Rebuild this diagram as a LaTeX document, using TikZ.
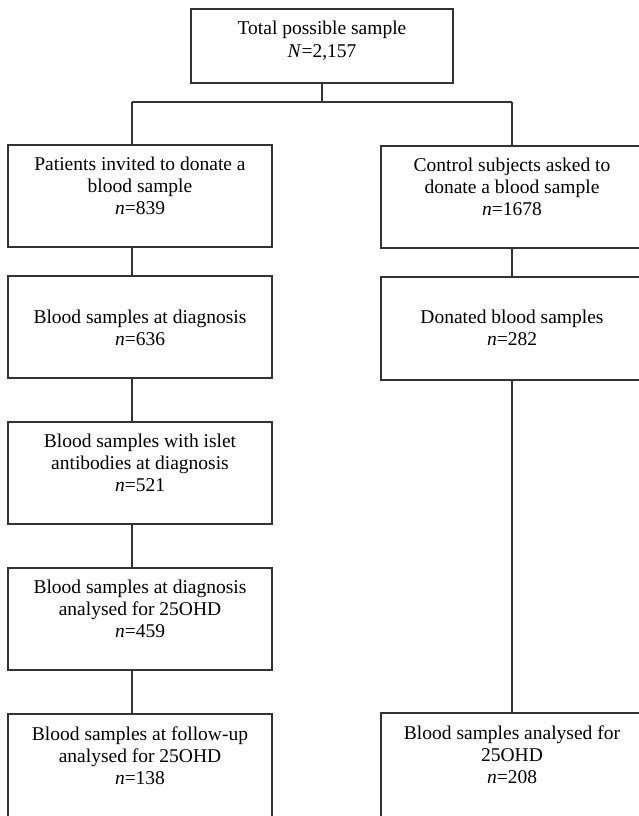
\documentclass[tikz,border=0pt]{standalone}
\usepackage{fontspec}
\setmainfont{Liberation Serif}
\begin{document}
\begin{tikzpicture}[x=1pt,y=-1pt,
  box/.style={draw=black!80, line width=1.3pt, inner sep=0pt, outer sep=0pt, anchor=north west},
  lbl/.style={anchor=base, inner sep=0pt, font=\fontsize{19.5}{22.3}\selectfont},
  conn/.style={draw=black!80, line width=1.3pt}]
\useasboundingbox (0,0) rectangle (638,816);
\fill[white] (0,0) rectangle (638,816);

% boxes
\node[box, minimum width=262pt, minimum height=74pt] (T) at (191,9) {};
\node[box, minimum width=264pt, minimum height=102pt] (L1) at (8,145) {};
\node[box, minimum width=264pt, minimum height=102pt] (L2) at (8,276) {};
\node[box, minimum width=264pt, minimum height=102pt] (L3) at (8,422) {};
\node[box, minimum width=264pt, minimum height=102pt] (L4) at (8,568) {};
\node[box, minimum width=264pt, minimum height=106pt] (L5) at (8,714) {};
\node[box, minimum width=262pt, minimum height=102pt] (R1) at (381,146) {};
\node[box, minimum width=262pt, minimum height=103pt] (R2) at (381,277) {};
\node[box, minimum width=262pt, minimum height=106pt] (R3) at (381,713) {};

% texts
\node[lbl] (Tt) at ([yshift=-26pt]T.north) {\begin{tabular}[t]{@{}c@{}}Total possible sample\\ \textit{N}=2,157\end{tabular}};
\node[lbl] (L1t) at ([yshift=-25pt]L1.north) {\begin{tabular}[t]{@{}c@{}}Patients invited to donate a\\ blood sample\\ \textit{n}=839\end{tabular}};
\node[lbl] (L2t) at ([yshift=-47.5pt]L2.north) {\begin{tabular}[t]{@{}c@{}}Blood samples at diagnosis\\ \textit{n}=636\end{tabular}};
\node[lbl] (L3t) at ([yshift=-25pt]L3.north) {\begin{tabular}[t]{@{}c@{}}Blood samples with islet\\ antibodies at diagnosis\\ \textit{n}=521\end{tabular}};
\node[lbl] (L4t) at ([yshift=-25pt]L4.north) {\begin{tabular}[t]{@{}c@{}}Blood samples at diagnosis\\ analysed for 25OHD\\ \textit{n}=459\end{tabular}};
\node[lbl] (L5t) at ([yshift=-26pt]L5.north) {\begin{tabular}[t]{@{}c@{}}Blood samples at follow-up\\ analysed for 25OHD\\ \textit{n}=138\end{tabular}};
\node[lbl] (R1t) at ([yshift=-25pt]R1.north) {\begin{tabular}[t]{@{}c@{}}Control subjects asked to\\ donate a blood sample\\ \textit{n}=1678\end{tabular}};
\node[lbl] (R2t) at ([yshift=-46.5pt]R2.north) {\begin{tabular}[t]{@{}c@{}}Donated blood samples\\ \textit{n}=282\end{tabular}};
\node[lbl] (R3t) at ([yshift=-26pt]R3.north) {\begin{tabular}[t]{@{}c@{}}Blood samples analysed for\\ 25OHD\\ \textit{n}=208\end{tabular}};

% junctions
\coordinate (jm) at (322,102);
\coordinate (jl) at (132,102);
\coordinate (jr) at (512,102);

% connectors
\draw[conn] (T.south) -- (jm);
\draw[conn] (jl) -- (jr);
\draw[conn] (jl) -- (L1.north -| jl);
\draw[conn] (jr) -- (R1.north -| jr);
\draw[conn] (L1.south -| jl) -- (L2.north -| jl);
\draw[conn] (L2.south -| jl) -- (L3.north -| jl);
\draw[conn] (L3.south -| jl) -- (L4.north -| jl);
\draw[conn] (L4.south -| jl) -- (L5.north -| jl);
\draw[conn] (R1.south -| jr) -- (R2.north -| jr);
\draw[conn] (R2.south -| jr) -- (R3.north -| jr);
\end{tikzpicture}
\end{document}
